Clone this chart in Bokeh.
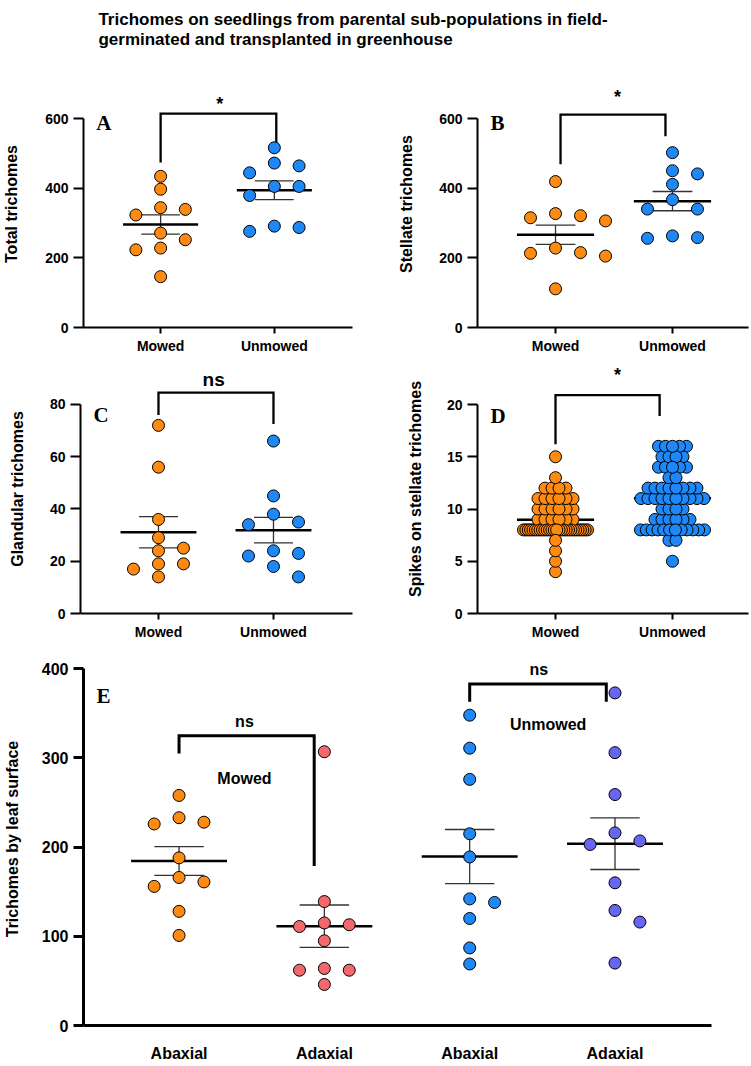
import numpy as np
from bokeh.plotting import figure
from bokeh.layouts import column, row
from bokeh.models import Label, FixedTicker
from bokeh.embed import file_html
from bokeh.resources import INLINE

# ---------------- data ----------------
title_lines = ["Trichomes on seedlings from parental sub-populations in field-",
               "germinated and transplanted in greenhouse"]
group_labels = ["Mowed", "Unmowed"]

total_mowed = [434, 397, 339, 344, 323, 252, 271, 223, 228, 146]
total_unmowed = [516, 464, 472, 444, 405, 405, 379, 276, 291, 287]

stellate_mowed = [419, 321, 327, 306, 315, 228, 213, 215, 205, 111]
stellate_unmowed = [502, 450, 441, 411, 367, 340, 340, 256, 263, 258]

glandular_mowed = [72, 56, 36, 29, 25, 24, 19, 19, 17, 14]
glandular_unmowed = [66, 45, 38, 35, 34, 24, 22, 23, 18, 14]

spike_levels_mowed = [4, 5, 6, 7, 8, 9, 10, 11, 12, 13, 15]
spike_counts_mowed = [1, 1, 1, 1, 28, 6, 6, 6, 4, 1, 1]
spike_levels_unmowed = [5, 7, 8, 9, 10, 11, 12, 13, 14, 15, 16]
spike_counts_unmowed = [1, 2, 12, 6, 4, 10, 8, 2, 5, 4, 5]

surface_labels = ["Abaxial", "Adaxial", "Abaxial", "Adaxial"]
abaxial_mowed = [258, 228, 226, 233, 188, 166, 161, 156, 128, 101]
adaxial_mowed = [307, 139, 115, 111, 113, 95, 64, 62, 62, 46]
abaxial_unmowed = [348, 311, 276, 215, 189, 142, 138, 120, 87, 69]
adaxial_unmowed = [373, 306, 259, 216, 207, 203, 160, 129, 116, 70]

y_ticks_total = [0, 200, 400, 600]
y_ticks_glandular = [0, 20, 40, 60, 80]
y_ticks_spikes = [0, 5, 10, 15, 20]
y_ticks_surface = [0, 100, 200, 300, 400]

# ---------------- style ----------------
FONT = "Liberation Sans"
SERIF = "Liberation Serif"
ORANGE = "#FF8A12"
BLUE = "#1E88F8"
PINK = "#F2696D"
PURPLE = "#6666F2"
MS = 12


def make_panel(width, height, left, right, top, bottom, xr, yr, yticks, ylabel,
               label_standoff, xlabels, axis_w=2, xtick_out=6, xlab_standoff=4,
               tick_size="14px", xlab_size="14px"):
    p = figure(width=width, height=height, x_range=xr, y_range=yr,
               toolbar_location=None, output_backend="svg",
               min_border_left=left, min_border_right=right,
               min_border_top=top, min_border_bottom=bottom)
    p.outline_line_color = None
    p.grid.visible = False
    p.background_fill_color = "white"
    p.border_fill_color = "white"
    ya = p.yaxis[0]
    ya.ticker = FixedTicker(ticks=yticks)
    ya.bounds = (yticks[0], yticks[-1])
    ya.major_tick_out = 10
    ya.major_tick_in = 0
    ya.minor_tick_out = 0
    ya.minor_tick_in = 0
    ya.axis_line_width = axis_w
    ya.major_tick_line_width = axis_w
    ya.major_label_standoff = 5
    ya.major_label_text_font = FONT
    ya.major_label_text_font_style = "bold"
    ya.major_label_text_font_size = tick_size
    ya.major_label_text_color = "black"
    ya.axis_label = ylabel
    ya.axis_label_text_font = FONT
    ya.axis_label_text_font_style = "bold"
    ya.axis_label_text_font_size = "16px"
    ya.axis_label_text_color = "black"
    ya.axis_label_standoff = label_standoff
    xa = p.xaxis[0]
    xa.ticker = FixedTicker(ticks=list(range(len(xlabels))))
    xa.major_label_overrides = {i: lab for i, lab in enumerate(xlabels)}
    xa.major_tick_out = xtick_out
    xa.major_tick_in = 0
    xa.minor_tick_out = 0
    xa.minor_tick_in = 0
    xa.axis_line_width = axis_w
    xa.major_tick_line_width = 2
    xa.major_label_standoff = xlab_standoff
    xa.major_label_text_font = FONT
    xa.major_label_text_font_style = "bold"
    xa.major_label_text_font_size = xlab_size
    xa.major_label_text_color = "black"
    fw = width - left - right
    fh = height - top - bottom
    ppx = fw / (xr[1] - xr[0])
    ppy = fh / (yr[1] - yr[0])
    return p, ppx, ppy


def swarm(vals, ppx, ppy, step_px=25.0, diam=12.5):
    v = np.asarray(vals, float)
    order = np.argsort(-v, kind="stable")
    placed = []
    offs = [0.0] * len(v)
    for i in order:
        y = v[i] * ppy
        chosen = 0
        for c in [0, 1, -1, 2, -2, 3, -3]:
            if all(not (pc == c and abs(py - y) < diam) for pc, py in placed):
                chosen = c
                break
        placed.append((chosen, y))
        offs[i] = chosen * step_px / ppx
    return offs


def summary(p, xc, vals, mean_w=0.33, cap_w=0.17, lw=2.5):
    v = np.asarray(vals, float)
    m = v.mean()
    s = v.std(ddof=1) / np.sqrt(len(v))
    p.segment(x0=[xc - cap_w, xc - cap_w, xc], y0=[m + s, m - s, m - s],
              x1=[xc + cap_w, xc + cap_w, xc], y1=[m + s, m - s, m + s],
              line_color="#333333", line_width=1.3)
    p.segment(x0=[xc - mean_w], y0=[m], x1=[xc + mean_w], y1=[m],
              line_color="black", line_width=lw)


def dots(p, xc, vals, color, ppx, ppy):
    offs = swarm(vals, ppx, ppy)
    p.scatter(x=[xc + o for o in offs], y=list(vals), size=MS, fill_color=color,
              line_color="black", line_width=1)


def row_dots(p, xc, levels, counts, color, ppx, gap_px=7.0, max_px=64.0):
    pts = []
    vals = []
    for lv, k in zip(levels, counts):
        sp = gap_px if k < 2 else min(gap_px, max_px / (k - 1))
        for j in range(k):
            off = (j - (k - 1) / 2.0) * sp / ppx
            pts.append((abs(off), xc + off, lv))
            vals.append(lv)
    pts.sort(key=lambda t: -t[0])
    summary(p, xc, vals)
    p.scatter(x=[t[1] for t in pts], y=[t[2] for t in pts], size=MS,
              fill_color=color, line_color="black", line_width=1)


def bracket(p, x0, x1, yl, yt, yr, lw=2.3):
    p.line(x=[x0, x0, x1, x1], y=[yl, yt, yt, yr], line_color="black",
           line_width=lw, line_join="miter")


def txt(p, x, y, s, size, font=FONT, align="center", baseline="middle"):
    p.add_layout(Label(x=x, y=y, text=s, text_font=font, text_font_size=size,
                       text_font_style="bold", text_align=align,
                       text_baseline=baseline, text_color="black"))


# ---------------- title (borders match panel E so frames align) ----------------
pt = figure(width=751, height=78, x_range=(80, 711), y_range=(0, 78),
            toolbar_location=None, output_backend="svg",
            x_axis_location=None, y_axis_location=None,
            min_border_left=80, min_border_right=40, min_border_top=0, min_border_bottom=0)
pt.outline_line_color = None
pt.grid.visible = False
txt(pt, 95, 59, title_lines[0], "17px", align="left", baseline="alphabetic")
txt(pt, 95, 39, title_lines[1], "17px", align="left", baseline="alphabetic")

# ---------------- A ----------------
pA, ax, ay = make_panel(383, 284, 80, 31, 2, 35, (-0.678, 1.687), (0, 709.1),
                        y_ticks_total, "Total trichomes", 22, group_labels)
summary(pA, 0, total_mowed)
summary(pA, 1, total_unmowed)
dots(pA, 0, total_mowed, ORANGE, ax, ay)
dots(pA, 1, total_unmowed, BLUE, ax, ay)
bracket(pA, 0, 1.017, 474, 614, 531)
txt(pA, 0.52, 642, "*", "18px")
txt(pA, -0.565, 588, "A", "21px", font=SERIF, align="left", baseline="alphabetic")

# ---------------- B ----------------
pB, bx, by = make_panel(368, 284, 94, 3, 2, 35, (-0.667, 1.65), (0, 709.1),
                        y_ticks_total, "Stellate trichomes", 21, group_labels)
summary(pB, 0, stellate_mowed)
summary(pB, 1, stellate_unmowed)
dots(pB, 0, stellate_mowed, ORANGE, bx, by)
dots(pB, 1, stellate_unmowed, BLUE, bx, by)
bracket(pB, 0.043, 0.94, 469, 611, 549)
txt(pB, 0.53, 662, "*", "18px")
txt(pB, -0.556, 588, "B", "21px", font=SERIF, align="left", baseline="alphabetic")

# ---------------- C ----------------
pC, cx, cy = make_panel(383, 288, 80, 31, 2, 37, (-0.678, 1.687), (0, 95.3),
                        y_ticks_glandular, "Glandular trichomes", 21, group_labels)
summary(pC, 0, glandular_mowed)
summary(pC, 1, glandular_unmowed)
dots(pC, 0, glandular_mowed, ORANGE, cx, cy)
dots(pC, 1, glandular_unmowed, BLUE, cx, cy)
bracket(pC, 0, 1.0, 76, 84.5, 72.5)
txt(pC, 0.48, 89.4, "ns", "19px")
txt(pC, -0.565, 75.8, "C", "21px", font=SERIF, align="left", baseline="alphabetic")

# ---------------- D ----------------
pD, dx, dy = make_panel(368, 288, 94, 3, 2, 37, (-0.667, 1.65), (0, 23.83),
                        y_ticks_spikes, "Spikes on stellate trichomes", 20, group_labels)
row_dots(pD, 0, spike_levels_mowed, spike_counts_mowed, ORANGE, dx)
row_dots(pD, 1, spike_levels_unmowed, spike_counts_unmowed, BLUE, dx)
bracket(pD, 0, 0.89, 16.2, 20.9, 18.9)
txt(pD, 0.53, 22.8, "*", "18px")
txt(pD, -0.556, 18.9, "D", "21px", font=SERIF, align="left", baseline="alphabetic")

# ---------------- E ----------------
pE, ex, ey = make_panel(751, 415, 80, 40, 2, 40, (-0.6575, 3.664), (0, 418.3),
                        y_ticks_surface, "Trichomes by leaf surface", 18, surface_labels,
                        axis_w=3, xtick_out=0, xlab_standoff=19,
                        tick_size="16px", xlab_size="16px")
for xc, vals in [(0, abaxial_mowed), (1, adaxial_mowed),
                 (2, abaxial_unmowed), (3, adaxial_unmowed)]:
    summary(pE, xc, vals)
for xc, vals, col in [(0, abaxial_mowed, ORANGE), (1, adaxial_mowed, PINK),
                      (2, abaxial_unmowed, BLUE), (3, adaxial_unmowed, PURPLE)]:
    dots(pE, xc, vals, col, ex, ey)
bracket(pE, 0, 0.93, 305, 325, 179, lw=3)
txt(pE, 0.45, 341, "ns", "16px")
txt(pE, 0.45, 277, "Mowed", "16px")
bracket(pE, 2.0, 2.94, 363, 383, 363, lw=3)
txt(pE, 2.475, 399, "ns", "16px")
txt(pE, 2.54, 338, "Unmowed", "16px")
txt(pE, -0.568, 369, "E", "21px", font=SERIF, align="left", baseline="alphabetic")

layout = column(pt, row(pA, pB, spacing=0), row(pC, pD, spacing=0), pE, spacing=0)
open("out.html", "w").write(file_html(layout, INLINE))
